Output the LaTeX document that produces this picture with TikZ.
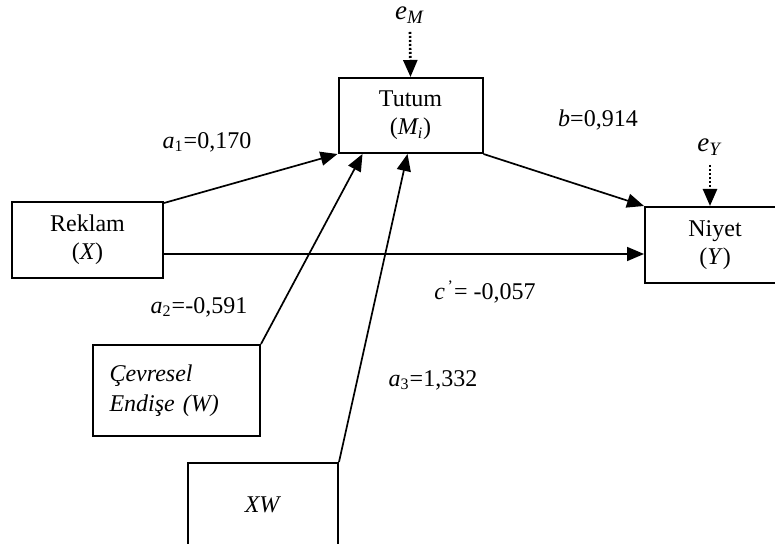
\documentclass[tikz,border=0pt]{standalone}
\usepackage{fontspec}
\setmainfont{Liberation Serif}
\usepackage{xcolor}
\usetikzlibrary{arrows.meta,positioning,calc}
\tikzset{
  var/.style={draw,line width=1pt,align=center,inner sep=0pt,font=\fontsize{12}{14}\selectfont},
  flow/.style={-{Triangle[length=8.5pt,width=7pt]},line width=0.85pt},
  err/.style={-{Triangle[length=8.5pt,width=7pt]},line width=1.3pt,dash pattern=on 1pt off 1pt},
  coef/.style={font=\fontsize{12}{14}\selectfont,inner sep=0pt},
  errlab/.style={font=\fontsize{13.5}{15}\selectfont,inner sep=0pt}
}

\begin{document}
\begin{tikzpicture}[x=0.5pt,y=-0.5pt]
  \useasboundingbox (0,0) rectangle (775,544);
  \clip (0,0) rectangle (775,544);
  % variables
  \node[var, minimum width=72pt, minimum height=37.5pt] (tutum) at (410.5,115.5) {Tutum\\(\textit{M\textsubscript{i}})};
  \node[var, minimum width=70pt, minimum height=38pt] (niyet) at (715,245) {Niyet\\(\textit{Y})};
  \node[var, minimum width=75.5pt, minimum height=38pt] (reklam) at (87.5,240) {Reklam\\(\textit{X})};
  \node[var, minimum width=83.5pt, minimum height=45.5pt, text width=67pt, align=left] (cevre) at (176.5,390.5) {\textit{Çevresel}\\[1pt]\textit{Endişe (W)}};
  \node[var, minimum width=75pt, minimum height=42pt] (xw) at (263,505) {\textit{XW}};
  % error terms
  \node[errlab] (eM) at (410,15) {\textit{e}\textsubscript{\textit{M}}};
  \node[errlab] (eY) at (710,147) {\textit{e}\textsubscript{\textit{Y}}};
  \draw[err] (eM.south |- 0,32) -- (tutum.north);
  \draw[err] (eY.south |- 0,165) -- (eY.south |- niyet.north);
  % paths
  \coordinate (cline) at (0,254);
  \coordinate (tipW) at ($(tutum.south west)+(25,0)$);
  \coordinate (tipXW) at ($(tutum.south west)+(70,0)$);
  \draw[flow] ([yshift=-1pt]reklam.north east) -- (tutum.south west);
  \draw[flow] (reklam.east |- cline) -- (niyet.west |- cline);
  \draw[flow] (tutum.south east) -- (niyet.north west);
  \draw[flow] (cevre.north east) -- (tipW);
  \draw[flow] (xw.north east) -- (tipXW);
  % coefficients
  \node[coef] (la1) at (207,142) {\textit{a}\textsubscript{1}=0,170};
  \node[coef] (lb) at (598,120) {\textit{b}=0,914};
  \node[coef] (la2) at (199,307) {\textit{a}\textsubscript{2}=-0,591};
  \node[coef] (lc) at (485,292) {\textit{c}\textsuperscript{\,’}= -0,057};
  \node[coef] (la3) at (433,380) {\textit{a}\textsubscript{3}=1,332};
\end{tikzpicture}
\end{document}
